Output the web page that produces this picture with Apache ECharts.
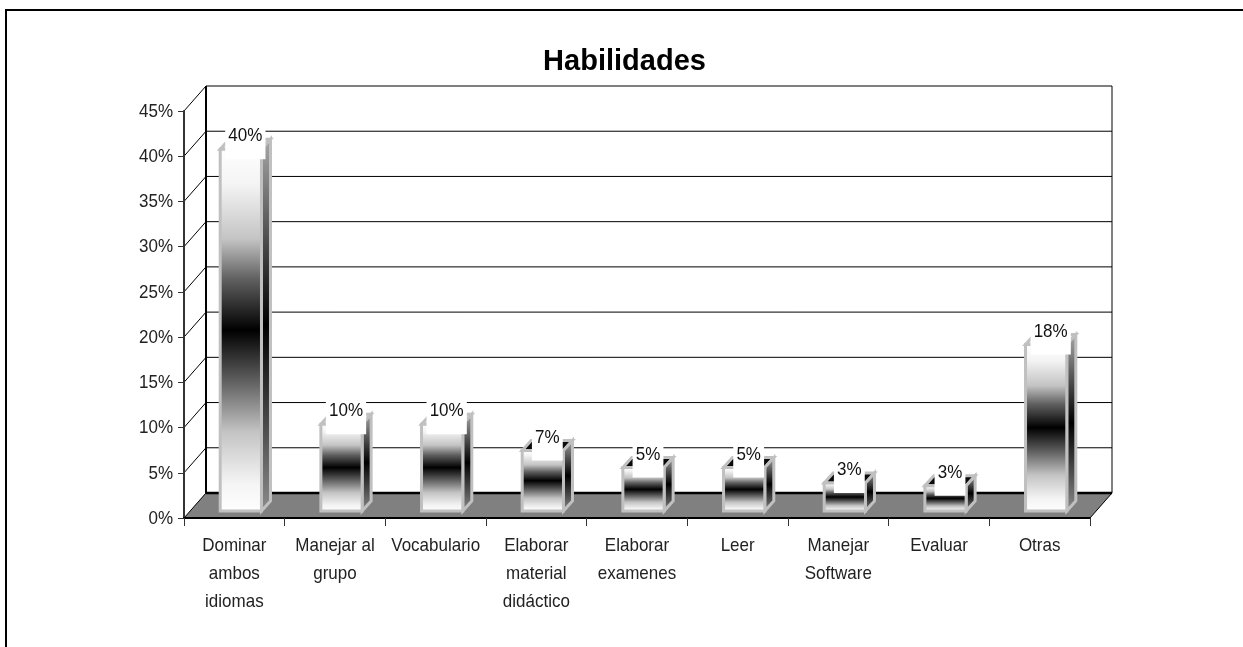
<!DOCTYPE html>
<html>
<head>
<meta charset="utf-8">
<style>html,body{margin:0;padding:0;background:#fff}#c{width:1243px;height:647px}</style>
<script src="https://cdn.jsdelivr.net/npm/echarts@6/dist/echarts.min.js"></script>
</head>
<body>
<div id="c"></div>
<script>
const titleText = 'Habilidades';
const categories = ['Dominar\nambos\nidiomas','Manejar al\ngrupo','Vocabulario','Elaborar\nmaterial\ndidáctico','Elaborar\nexamenes','Leer','Manejar\nSoftware','Evaluar','Otras'];
const values = [40, 9.6, 9.6, 6.7, 4.8, 4.8, 3.1, 2.8, 18.4];
const tickValues = [0, 5, 10, 15, 20, 25, 30, 35, 40, 45];

const FONT = '"Liberation Sans", Arial, sans-serif';
const TEXT_FONT = '19px ' + FONT;
const TEXT_SCALE = 0.895;    // condensed look of the labels
const WALL = [22, -25];      // plot depth
const BAR_SHIFT = [6.5, -7]; // bar position within the depth
const BAR_DEPTH = [9, -10];
const EDGE = '#c0c0c0';

const lg = (stops) => new echarts.graphic.LinearGradient(0, 0, 0, 1, stops.map(s => ({offset: s[0], color: s[1]})));
const frontFill = lg([[0,'#ffffff'],[0.1,'#f4f4f4'],[0.25,'#c4c4c4'],[0.36,'#606060'],[0.5,'#000000'],[0.64,'#606060'],[0.78,'#c4c4c4'],[0.92,'#f4f4f4'],[1,'#ffffff']]);
const sideFill = lg([[0,'#a8a8a8'],[0.5,'#000000'],[1,'#8c8c8c']]);

function renderWall(params, api) {
  const cs = params.coordSys;
  const v = api.value(1);
  const p = api.coord([0, v]);
  const x0 = cs.x, x1 = cs.x + cs.width, y = p[1];
  const bx0 = x0 + WALL[0], bx1 = x1 + WALL[0], by = y + WALL[1];
  const children = [];
  const line = (a, b, c, d, w) => ({type:'line', shape:{x1:a,y1:b,x2:c,y2:d}, style:{stroke:'#000', lineWidth:w}});
  if (v === 0) {
    children.push({type:'polygon', shape:{points:[[x0,y],[bx0,by],[bx1,by],[x1,y]]}, style:{fill:'#808080'}});
    children.push(line(x1, y, bx1, by, 1));
    children.push(line(x0, y, x1, y, 2));
  }
  children.push(line(x0, y, bx0, by, 1));
  children.push(line(bx0, by, bx1, by, v === 0 ? 2.5 : 1));
  if (v === tickValues[tickValues.length - 1]) {
    const floorY = api.coord([0, 0])[1] + WALL[1];
    children.push(line(bx0, by, bx0, floorY, 2));
    children.push(line(bx1, by, bx1, floorY, 1));
  }
  children.push({type:'text', x: x0 - 11, y: y + 0.5, scaleX: TEXT_SCALE, style:{
    text: v + '%', font: TEXT_FONT, fill:'#222', align:'right', verticalAlign:'middle'}});
  return {type:'group', children};
}

function renderBar(params, api) {
  const i = api.value(0), v = api.value(1);
  const c = api.coord([i, v]), b = api.coord([i, 0]);
  const w = api.size([1, 0])[0] * 0.41;
  const xl = c[0] - w / 2 + BAR_SHIFT[0], xr = xl + w;
  const yt = c[1] + BAR_SHIFT[1], yb = b[1] + BAR_SHIFT[1];
  const dx = BAR_DEPTH[0], dy = BAR_DEPTH[1];
  const stroke = {stroke: EDGE, lineWidth: 3, lineJoin: 'miter'};
  const labelX = (xl + xr) / 2 + dx / 2;
  return {type:'group', children:[
    {type:'polygon', shape:{points:[[xl,yt],[xl+dx,yt+dy],[xr+dx,yt+dy],[xr,yt]]}, style:Object.assign({fill: v >= 9 ? '#dddddd' : '#0a0a0a'}, stroke)},
    {type:'polygon', shape:{points:[[xr,yt],[xr+dx,yt+dy],[xr+dx,yb+dy],[xr,yb]]}, style:Object.assign({fill: sideFill}, stroke)},
    {type:'rect', shape:{x:xl,y:yt,width:w,height:yb-yt}, style:Object.assign({fill: frontFill}, stroke)},
    {type:'text', x: labelX, y: yt - 24, scaleX: TEXT_SCALE, style:{
      text: Math.round(v) + '%', font: TEXT_FONT, fill:'#111',
      align:'center', verticalAlign:'top', lineHeight:22,
      backgroundColor:'#fff', padding:[0,3.5,12,3.5]
    }},
    {type:'text', x: c[0], y: b[1] + 14, scaleX: TEXT_SCALE, style:{
      text: categories[i], font: TEXT_FONT, fill:'#222',
      align:'center', verticalAlign:'top', lineHeight:28
    }}
  ]};
}

const chart = echarts.init(document.getElementById('c'), null, {renderer:'canvas'});
chart.setOption({
  animation:false,
  backgroundColor:'#fff',
  title:{text:titleText, left:619.5, top:42, textAlign:'center',
    textStyle:{fontFamily:FONT, fontSize:29, fontWeight:'bold', color:'#000'}},
  graphic:[{type:'polyline', shape:{points:[[6,647],[6,10],[1243,10]]}, style:{stroke:'#000', lineWidth:2, fill:null}, z:10}],
  grid:{left:184, top:111, width:906, height:407, containLabel:false},
  xAxis:{type:'category', data:categories, z:3,
    axisLine:{show:true, lineStyle:{color:'#000', width:2}},
    axisTick:{show:true, interval:0, length:8, lineStyle:{color:'#333'}},
    axisLabel:{show:false},
    splitLine:{show:false}},
  yAxis:{type:'value', min:0, max:45, interval:5, z:3,
    axisLine:{show:true, lineStyle:{color:'#333', width:2}},
    axisTick:{show:true, length:6, lineStyle:{color:'#333'}},
    axisLabel:{show:false},
    splitLine:{show:false}},
  series:[
    {type:'custom', z:1, silent:true, renderItem:renderWall, encode:{x:0,y:1},
      data:tickValues.map(v => [0, v])},
    {type:'custom', z:2, silent:true, renderItem:renderBar, encode:{x:0,y:1},
      data:values.map((v, i) => [i, v])}
  ]
});
</script>
</body>
</html>
